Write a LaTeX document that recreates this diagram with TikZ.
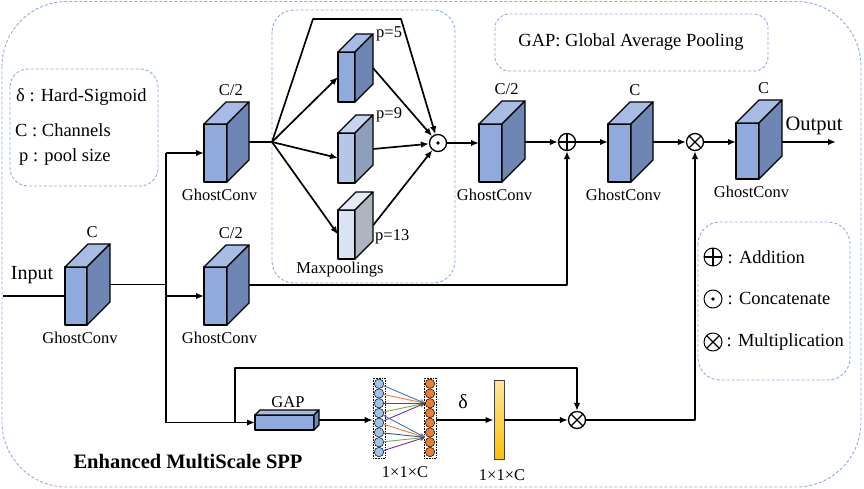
\documentclass[tikz,border=0pt]{standalone}
\usepackage{fontspec}
\setmainfont{Liberation Serif}
\usetikzlibrary{arrows.meta,positioning,calc}

\definecolor{frameblue}{HTML}{8EAADB}
\definecolor{deepfront}{HTML}{8FAADC}
\definecolor{deeptop}{HTML}{A7BCE5}
\definecolor{deepside}{HTML}{6E86B4}
\definecolor{midfront}{HTML}{B4C7E7}
\definecolor{midtop}{HTML}{C7D5EE}
\definecolor{midside}{HTML}{8E9FBD}
\definecolor{palefront}{HTML}{DAE3F3}
\definecolor{paletop}{HTML}{E3E9F5}
\definecolor{paleside}{HTML}{AEB5C1}
\definecolor{nblue}{HTML}{9DC3E6}
\definecolor{norange}{HTML}{ED7D31}
\definecolor{cblue}{HTML}{4472C4}
\definecolor{corange}{HTML}{ED7D31}
\definecolor{cgray}{HTML}{44546A}
\definecolor{cgreen}{HTML}{70AD47}
\definecolor{cpurple}{HTML}{7030A0}
\definecolor{bartop}{HTML}{FFE699}
\definecolor{barbottom}{HTML}{FFC000}

\newcommand{\ghostblock}[6]{%
	\node[blockface, fill=#6front, minimum width=#3pt, minimum height=#4pt] (#1) at (#2) {};
	\draw[blockface, fill=#6top] (#1.north west) -- ++(#5,-#5) -- ++(#3,0) -- (#1.north east) -- cycle;
	\draw[blockface, fill=#6side] (#1.north east) -- ++(#5,-#5) -- ++(0,#4) -- (#1.south east) -- cycle;
	\coordinate (#1-top) at ($(#1.north)+(0.7*#5,-#5)$);
	\coordinate (#1-out) at ($(#1.east)+(#5,-#5/2)$);
}

\begin{document}
\begin{tikzpicture}[x=1pt, y=-1pt, >={Latex[length=8pt,width=6.5pt]}, line join=round]
		\tikzstyle{blockface}=[draw=black, line width=1.3pt, inner sep=0pt, outer sep=0pt]
		\tikzstyle{frame}=[draw=frameblue, line width=0.9pt, dash pattern=on 3pt off 2pt]
		\tikzstyle{conn}=[draw=black, line width=1.7pt]
		\tikzstyle{lbl}=[font=\fontsize{16.5}{18}\selectfont, inner sep=1pt]
		\tikzstyle{legend}=[font=\fontsize{18.5}{21}\selectfont, inner sep=0pt, anchor=west]
		\tikzstyle{op}=[circle, draw=black, line width=1.3pt, minimum size=17pt, inner sep=0pt, fill=white]
		\tikzstyle{opadd}=[op, path picture={\draw[black, line width=1.2pt] (path picture bounding box.north) -- (path picture bounding box.south) (path picture bounding box.west) -- (path picture bounding box.east);}]
		\tikzstyle{opmul}=[op, path picture={\draw[black, line width=1.2pt] (path picture bounding box.north west) -- (path picture bounding box.south east) (path picture bounding box.north east) -- (path picture bounding box.south west);}]
		\tikzstyle{opcat}=[op, path picture={\fill[black] (path picture bounding box.center) circle (1.9pt);}]
		\tikzstyle{neuron}=[circle, draw=black, line width=0.5pt, minimum size=9.5pt, inner sep=0pt]
		\tikzstyle{colframe}=[draw=black, densely dotted, line width=0.6pt, minimum width=12pt, minimum height=80pt, inner sep=0pt]
		\tikzstyle{link}=[line width=0.9pt, -{Stealth[length=5pt,width=4.5pt]}]
		\tikzstyle{sigbar}=[draw=black!75, line width=0.9pt, top color=bartop, bottom color=barbottom, minimum width=10pt, minimum height=79pt, inner sep=0pt]

		\useasboundingbox (0,0) rectangle (864,489);
		\draw[frame, rounded corners=65pt] (2,1.5) rectangle (861,487);
		\draw[frame, rounded corners=18pt] (10,69) rectangle (158,186);
		\draw[frame, rounded corners=22pt] (272,10) rectangle (455,283);
		\draw[frame, rounded corners=14pt] (495,14) rectangle (768,71);
		\draw[frame, rounded corners=22pt] (698,222) rectangle (850,380);

		\ghostblock{b1}{76,296}{22}{58}{23}{deep}
		\ghostblock{b2}{215.5,153}{23}{58}{22}{deep}
		\ghostblock{b3}{215.5,296}{23}{58}{22}{deep}
		\ghostblock{mp5}{346.5,77}{17}{50}{18}{deep}
		\ghostblock{mp9}{346.5,158}{17}{50}{18}{mid}
		\ghostblock{mp13}{346.5,234.5}{17}{49}{18}{pale}
		\ghostblock{b4}{490.5,153}{23}{58}{23}{deep}
		\ghostblock{b5}{619.5,153}{23}{58}{22}{deep}
		\ghostblock{b6}{747.5,151}{23}{56}{23}{deep}
		\ghostblock{gap}{284.5,422.5}{59}{15}{5}{deep}

		\node[lbl, above=5pt of b1-top] (b1c) {C};
		\node[lbl, above=5pt of b2-top] (b2c) {C/2};
		\node[lbl, above=5pt of b3-top] (b3c) {C/2};
		\node[lbl, above=5pt of b4-top] (b4c) {C/2};
		\node[lbl, above=5pt of b5-top] (b5c) {C};
		\node[lbl, above=5pt of b6-top] (b6c) {C};
		\node[lbl, above=1pt of gap-top] (gapc) {GAP};
		\node[lbl, below=6pt of b1, xshift=4pt] (b1g) {GhostConv};
		\node[lbl, below=6pt of b2, xshift=4pt] (b2g) {GhostConv};
		\node[lbl, below=6pt of b3, xshift=4pt] (b3g) {GhostConv};
		\node[lbl, below=6pt of b4, xshift=4pt] (b4g) {GhostConv};
		\node[lbl, below=6pt of b5, xshift=4pt] (b5g) {GhostConv};
		\node[lbl, below=6pt of b6, xshift=4pt] (b6g) {GhostConv};
		\node[lbl, anchor=west] (p5) at ($(mp5.north east)+(20,-18)$) {p=5};
		\node[lbl, anchor=west] (p9) at ($(mp9.north east)+(20,-18)$) {p=9};
		\node[lbl, anchor=west] (p13) at ($(mp13.north east)+(19,27)$) {p=13};
		\node[lbl] (mpl) at (340,270) {Maxpoolings};

		\node[opcat] (cat) at (438,143) {};
		\node[opadd] (add) at (567,142) {};
		\node[opmul] (mul) at (695,142) {};
		\node[opmul] (mulb) at (577,420) {};

		\coordinate (inp) at (3,296);
		\coordinate (jt) at (166,153);
		\coordinate (jb) at (166,422.5);
		\coordinate (fan) at (272,142);
		\coordinate (bl) at (313,19);
		\coordinate (br) at (401,19);
		\coordinate (gtap) at (235,422.5);
		\coordinate (ltop) at (235,368);
		\coordinate (outp) at (836,142);

		\node[font=\fontsize{20}{22}\selectfont] (input) at (32,275) {Input};
		\node[font=\fontsize{20.5}{22}\selectfont] (output) at (814,126) {Output};
		\node[font=\bfseries\fontsize{20.5}{22}\selectfont] (title) at (188,462) {Enhanced MultiScale SPP};

		\node[legend] (lg1) at (16,97) {δ : Hard-Sigmoid};
		\node[legend] (lg2) at (15,130) {C : Channels};
		\node[legend] (lg3) at (19,157) {p : pool size};
		\node[legend, anchor=center] (lg4) at (631,42) {GAP: Global Average Pooling};
		\node[opadd, line width=1pt, minimum size=18pt] (sadd) at (713,257) {};
		\node[opcat, line width=1pt, minimum size=18pt] (scat) at (713,299) {};
		\node[opmul, line width=1pt, minimum size=18pt] (smul) at (713,342) {};
		\node[legend] (lg5) at ($(sadd.east)+(5,0)$) {: Addition};
		\node[legend] (lg6) at ($(scat.east)+(5,0)$) {: Concatenate};
		\node[legend] (lg7) at ($(smul.east)+(4,0)$) {: Multiplication};

		\node[colframe] (nl) at (379,418) {};
		\node[colframe] (nr) at (430,418) {};
		\foreach \i in {1,...,8} {
			\node[neuron, fill=nblue] (l\i) at (379,374+9.75*\i) {};
			\node[neuron, fill=norange] (r\i) at (430,374+9.75*\i) {};
		}
		\coordinate (t2) at ($(r6.west)!0.5!(r7.west)$);
		\foreach \s/\col in {1/cblue,2/corange,3/cgray,4/cgreen,5/cpurple}
			\draw[link, \col] (l\s) -- (r3.west);
		\foreach \s/\col in {4/cblue,5/corange,6/cgray,7/cgreen,8/cpurple}
			\draw[link, \col] (l\s) -- (t2);
		\node[sigbar] (bar) at (499,420) {};
		\node[font=\fontsize{20}{22}\selectfont] (delta) at (463,402) {δ};
		\node[lbl] (sz1) at (405,472) {1×1×C};
		\node[lbl] (sz2) at (502,475) {1×1×C};

		\draw[conn] (inp) -- (b1.west);
		\draw[conn] (b1-out) -- (b1-out -| jt);
		\draw[conn] (jt) -- (jb);
		\draw[conn, ->] (jt) -- (b2.west);
		\draw[conn, ->] (jt |- b3) -- (b3.west);
		\draw[conn, ->] (jb) -- (gap.west);
		\draw[conn] (b2-out) -- (fan);
		\draw[conn, ->] (fan) -- (mp5.west);
		\draw[conn, ->] (fan) -- (mp9.west);
		\draw[conn, ->] (fan) -- (mp13.west);
		\draw[conn, ->] (fan) -- (bl) -- (br) -- (cat);
		\draw[conn, ->] (mp5-out) -- (cat);
		\draw[conn, ->] (mp9-out) -- (cat);
		\draw[conn, ->] (mp13-out) -- (cat);
		\draw[conn, ->] (cat) -- (cat -| b4.west);
		\draw[conn, ->] (b4-out |- add) -- (add);
		\draw[conn, ->] (b3-out) -| (add);
		\draw[conn, ->] (add) -- (add -| b5.west);
		\draw[conn, ->] (b5-out |- mul) -- (mul);
		\draw[conn, ->] (mul) -- (mul -| b6.west);
		\draw[conn, ->] (b6-out |- mul) -- (outp);
		\draw[conn, ->] (gap-out) -- (gap-out -| nl.west);
		\draw[conn, ->] (gtap) -- (ltop) -| (mulb);
		\draw[conn, ->] (nr.east |- bar) -- (bar.west);
		\draw[conn, ->] (bar) -- (mulb);
		\draw[conn, ->] (mulb) -| (mul);
	\end{tikzpicture}
\end{document}
